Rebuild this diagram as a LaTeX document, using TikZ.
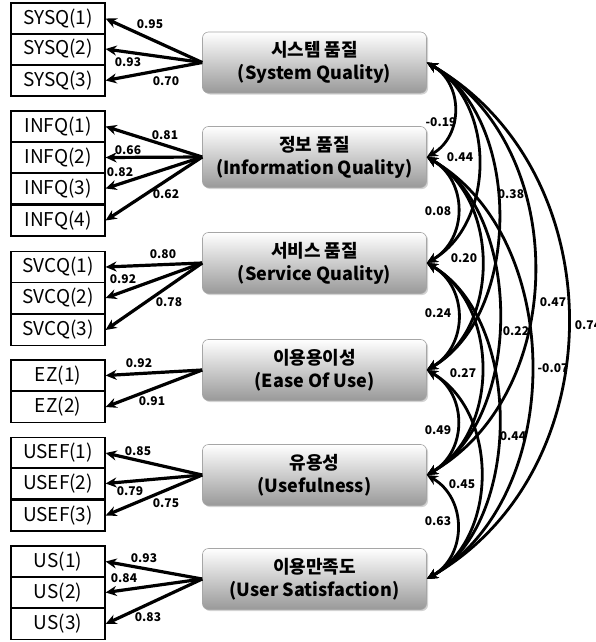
\documentclass[tikz,border=0pt]{standalone}
\usepackage{fontspec}
\setmainfont{Noto Sans CJK KR}
\usetikzlibrary{positioning,arrows.meta,shadows}
\tikzstyle{pathDiagram} = [x = 1pt, y = -1pt]
\tikzstyle{indicatorStyle} = [draw, line width=1.2pt, minimum width=94pt, minimum height=31pt, inner sep=0pt, font=\fontsize{19}{21}\selectfont]
\tikzstyle{factorStyle} = [draw=black!35, line width=.6pt, rounded corners=6pt, top color=white, bottom color=black!40, minimum width=224pt, minimum height=61pt, align=center, inner sep=0pt, font=\fontsize{18}{23}\selectfont\bfseries, drop shadow={shadow xshift=1.5pt, shadow yshift=-1.5pt, opacity=.35}]
\tikzstyle{loadingLine} = [line width=3.2pt, -{Stealth[length=11pt, width=10pt]}]
\tikzstyle{covLine} = [line width=2.8pt, {Stealth[length=11pt, width=10pt]}-{Stealth[length=11pt, width=10pt]}, bend left=60]
\tikzstyle{weightText} = [font=\fontsize{12}{13}\selectfont\bfseries, inner sep=0pt]
\newcommand{\indicator}[3]{\node [indicatorStyle] (#1) at (58, #2) {#3};}
\newcommand{\factor}[4]{\node [factorStyle] (#1) at (314.5, #2) {\raisebox{-2pt}{#3}\\\raisebox{-2pt}{(#4)}};}
\newcommand{\loading}[5]{\draw [loadingLine] (#1.west) -- (#2.east); \node [weightText] at (#3, #4) {#5};}
\newcommand{\covariance}[6]{\draw [covLine, looseness=#3] (#1.east) to (#2.east); \node [weightText] at (#4, #5) {#6};}

\begin{document}
\begin{tikzpicture}[pathDiagram]
  \useasboundingbox (0,0) rectangle (596,642);

  % measured variables
  \indicator{sysq1}{18.5}{SYSQ(1)}
  \indicator{sysq2}{49}{SYSQ(2)}
  \indicator{sysq3}{80.5}{SYSQ(3)}
  \indicator{infq1}{126.5}{INFQ(1)}
  \indicator{infq2}{157.5}{INFQ(2)}
  \indicator{infq3}{188.5}{INFQ(3)}
  \indicator{infq4}{220.5}{INFQ(4)}
  \indicator{svcq1}{267}{SVCQ(1)}
  \indicator{svcq2}{298}{SVCQ(2)}
  \indicator{svcq3}{330}{SVCQ(3)}
  \indicator{ez1}{375.5}{EZ(1)}
  \indicator{ez2}{407}{EZ(2)}
  \indicator{usef1}{453}{USEF(1)}
  \indicator{usef2}{483.5}{USEF(2)}
  \indicator{usef3}{515.5}{USEF(3)}
  \indicator{us1}{561.5}{US(1)}
  \indicator{us2}{592.5}{US(2)}
  \indicator{us3}{624}{US(3)}

  % latent variables
  \factor{sysF}{62.5}{시스템 품질}{System Quality}
  \factor{infF}{157}{정보 품질}{Information Quality}
  \factor{svcF}{263}{서비스 품질}{Service Quality}
  \factor{ezF}{370}{이용용이성}{Ease Of Use}
  \factor{usefF}{475}{유용성}{Usefulness}
  \factor{usF}{579}{이용만족도}{User Satisfaction}

  % loadings
  \loading{sysF}{sysq1}{150}{24}{0.95}
  \loading{sysF}{sysq2}{128}{62}{0.93}
  \loading{sysF}{sysq3}{166}{81}{0.70}
  \loading{infF}{infq1}{165}{135}{0.81}
  \loading{infF}{infq2}{128}{150}{0.66}
  \loading{infF}{infq3}{120}{172}{0.82}
  \loading{infF}{infq4}{166}{194}{0.62}
  \loading{svcF}{svcq1}{163}{254}{0.80}
  \loading{svcF}{svcq2}{123}{279}{0.92}
  \loading{svcF}{svcq3}{169}{302}{0.78}
  \loading{ezF}{ez1}{139}{363}{0.92}
  \loading{ezF}{ez2}{152}{401}{0.91}
  \loading{usefF}{usef1}{138}{451}{0.85}
  \loading{usefF}{usef2}{130}{491}{0.79}
  \loading{usefF}{usef3}{166}{503}{0.75}
  \loading{usF}{us1}{144}{558}{0.93}
  \loading{usF}{us2}{124}{578}{0.84}
  \loading{usF}{us3}{148}{617}{0.83}

  % correlations
  \covariance{sysF}{infF}{1.15}{441}{122}{-0.19}
  \covariance{sysF}{svcF}{1.02}{460}{157}{0.44}
  \covariance{sysF}{ezF}{0.92}{511}{194}{0.38}
  \covariance{sysF}{usefF}{1.03}{553}{302}{0.47}
  \covariance{sysF}{usF}{1.08}{588}{325}{0.74}
  \covariance{infF}{svcF}{1.15}{438}{211}{0.08}
  \covariance{infF}{ezF}{1.02}{464}{258}{0.20}
  \covariance{infF}{usefF}{0.9}{516}{331}{0.22}
  \covariance{infF}{usF}{0.98}{553}{368}{-0.07}
  \covariance{svcF}{ezF}{1.15}{438}{313}{0.24}
  \covariance{svcF}{usefF}{1.02}{463}{373}{0.27}
  \covariance{svcF}{usF}{0.9}{513}{436}{0.44}
  \covariance{ezF}{usefF}{1.15}{438}{430}{0.49}
  \covariance{ezF}{usF}{1.02}{462}{484}{0.45}
  \covariance{usefF}{usF}{1.15}{438}{521}{0.63}
\end{tikzpicture}
\end{document}
